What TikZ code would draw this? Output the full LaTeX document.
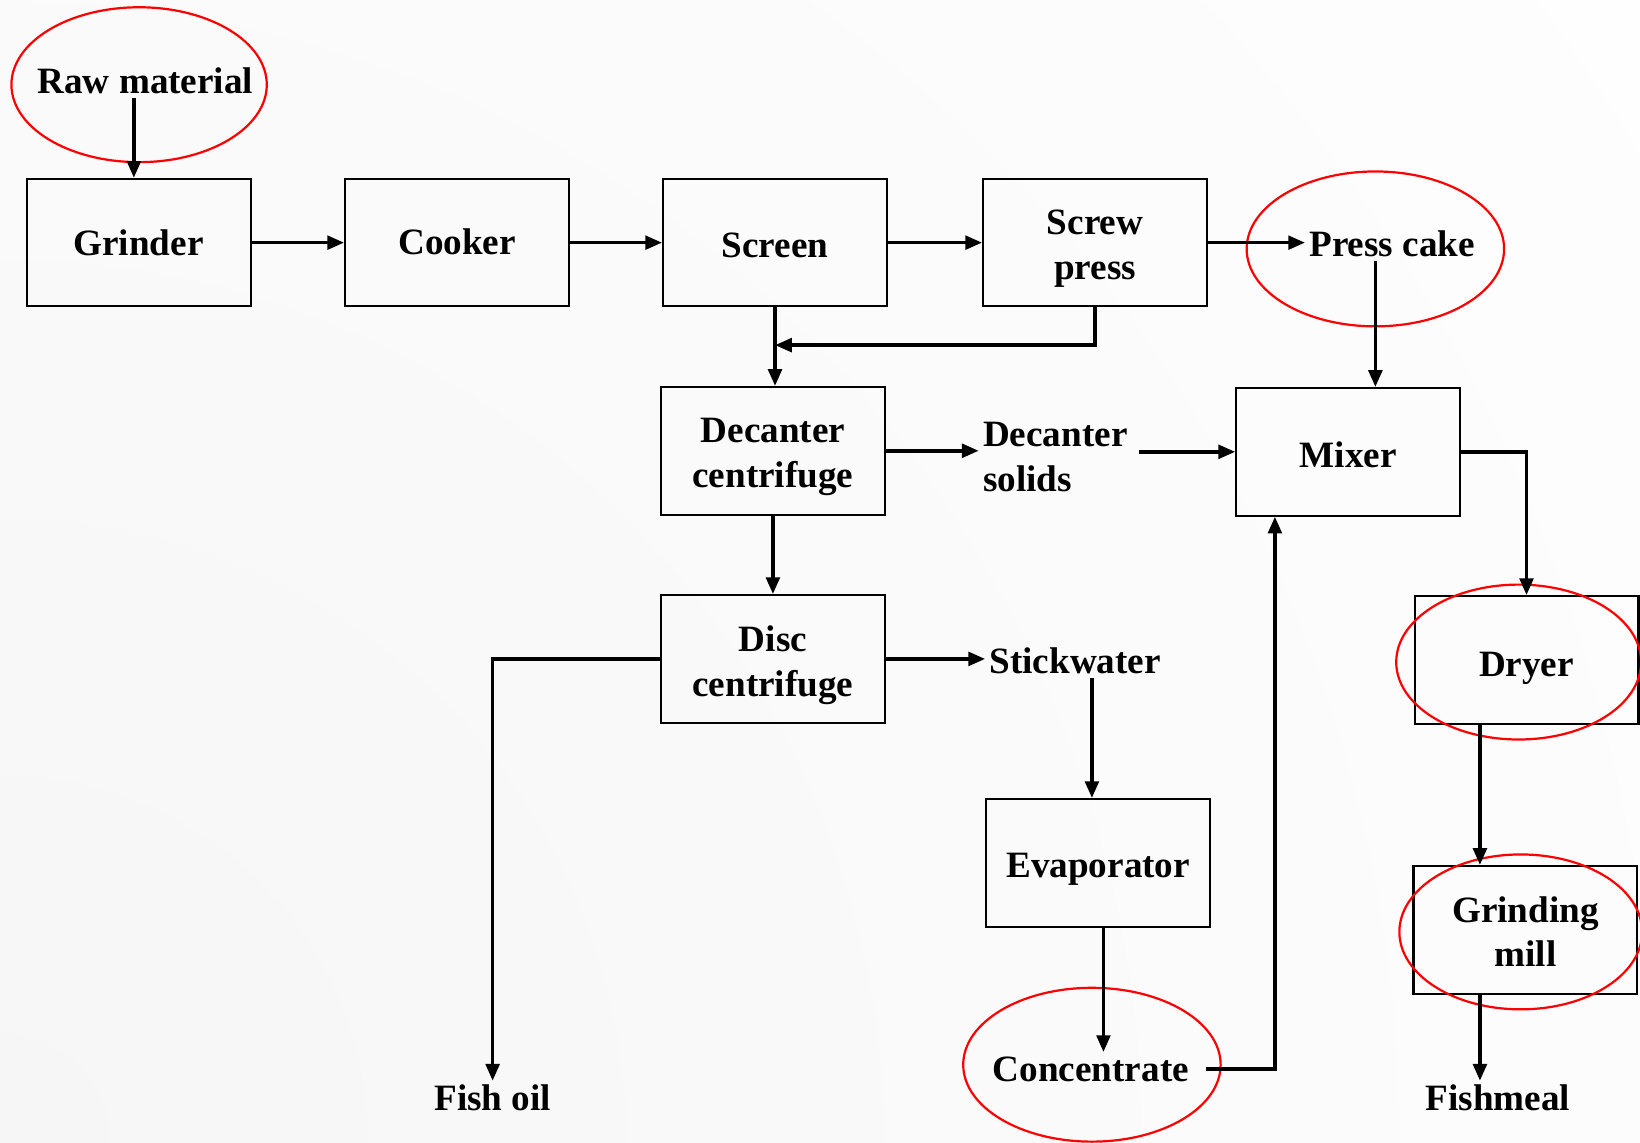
\documentclass[tikz,border=0pt]{standalone}
\usepackage{fontspec}
\setmainfont{Liberation Serif}
\usetikzlibrary{arrows.meta,shapes.geometric}
\newcommand\mvtext[2]{\raisebox{-#1mm}[\height][\depth]{\begin{tabular}{@{}c@{}}#2\end{tabular}}}
\begin{document}
\begin{tikzpicture}[x=0.01cm,y=-0.01cm,
  font=\fontsize{10.1}{12.2}\selectfont\bfseries,
  boxnode/.style={draw=black,line width=0.55pt,minimum width=2.14cm,minimum height=1.22cm,inner sep=0pt,align=center},
  lbl/.style={inner sep=1pt,align=center},
  ring/.style={draw=red,line width=0.6pt,ellipse,inner sep=0pt},
  arr/.style={line width=0.95pt,-{Triangle[length=0.16cm,width=0.13cm]}}]
\useasboundingbox (0,0) rectangle (1568,1092);
\clip (0,0) rectangle (1568,1092);
\fill[white] (0,0) rectangle (1568,1092);
\shade[inner color=black!3.5,outer color=white] (0,1092) circle (2200);
% boxes
\node[boxnode] (grinder) at (132.5,232) {\mvtext{0.34}{Grinder}};
\node[boxnode] (cooker) at (437,232) {\mvtext{0.24}{Cooker}};
\node[boxnode] (screen) at (741,232) {\mvtext{0.54}{Screen}};
\node[boxnode] (screw) at (1047,232) {\mvtext{0.55}{Screw\\press}};
\node[boxnode] (decanter) at (739,431) {\mvtext{0.5}{Decanter\\centrifuge}};
\node[boxnode] (mixer) at (1289,432) {\mvtext{0.64}{Mixer}};
\node[boxnode] (disc) at (739,630) {\mvtext{0.57}{Disc\\centrifuge}};
\node[boxnode] (evap) at (1050,825) {\mvtext{0.54}{Evaporator}};
\node[boxnode] (dryer) at (1459.5,631) {\mvtext{0.74}{Dryer}};
\node[boxnode] (mill) at (1458.5,889) {\mvtext{0.55}{Grinding\\mill}};
% labels
\node[lbl] (raw) at (139,77) {Raw material};
\node[lbl] (press) at (1331,233) {Press cake};
\node[lbl,align=left] (dsolids) at (1009,437) {Decanter\\solids};
\node[lbl] (stick) at (1028,632) {Stickwater};
\node[lbl] (fishoil) at (471,1050) {Fish oil};
\node[lbl] (conc) at (1043,1022) {Concentrate};
\node[lbl] (fishmeal) at (1432,1050) {Fishmeal};
% red ellipses
\node[ring,minimum width=2.44cm,minimum height=1.48cm] (rawring) at (133,81) {};
\node[ring,minimum width=2.46cm,minimum height=1.48cm] (pcring) at (1315,238) {};
\node[ring,minimum width=2.46cm,minimum height=1.47cm] (concring) at (1044,1018) {};
\node[ring,minimum width=2.34cm,minimum height=1.48cm] (dryring) at (1452,633) {};
\node[ring,minimum width=2.32cm,minimum height=1.48cm] (millring) at (1454,891) {};
% junction
\coordinate (j) at (741,330);
% connectors
\draw[arr] ([xshift=-0.045cm]grinder.north |- raw.south) -- ([xshift=-0.045cm]grinder.north);
\draw[arr] (grinder.east) -- (cooker.west);
\draw[arr] (cooker.east) -- (screen.west);
\draw[arr] (screen.east) -- (screw.west);
\draw[arr] (screw.east) -- (screw.east -| press.west);
\draw[arr] (pcring.center |- press.south) -- (pcring.center |- mixer.north);
\draw[arr] (screen.south) -- (screen.south |- decanter.north);
\draw[arr] (screw.south) |- (j);
\draw[arr] (decanter.east) -- (decanter.east -| dsolids.west);
\draw[arr] ([xshift=0.07cm]mixer.west -| dsolids.east) -- (mixer.west);
\draw[arr] (mixer.east) -| (dryer.north);
\draw[arr] (decanter.south) -- (disc.north);
\draw[arr] (disc.west) -| (fishoil.north);
\draw[arr] (disc.east) -- (disc.east -| stick.west);
\draw[arr] ([xshift=-0.06cm]evap.north |- stick.south) -- ([xshift=-0.06cm]evap.north);
\draw[arr] ([xshift=0.05cm]evap.south) -- ([xshift=0.05cm]evap.south |- conc.north);
\draw[arr] ([xshift=0.12cm]conc.east) -| ([xshift=-0.7cm]mixer.south);
\draw[arr] ([xshift=-0.445cm]dryer.south) -- ([xshift=-0.445cm]dryer.south |- mill.north);
\draw[arr] ([xshift=-0.435cm]mill.south) -- ([xshift=-0.435cm]mill.south |- fishmeal.north);
\end{tikzpicture}
\end{document}
